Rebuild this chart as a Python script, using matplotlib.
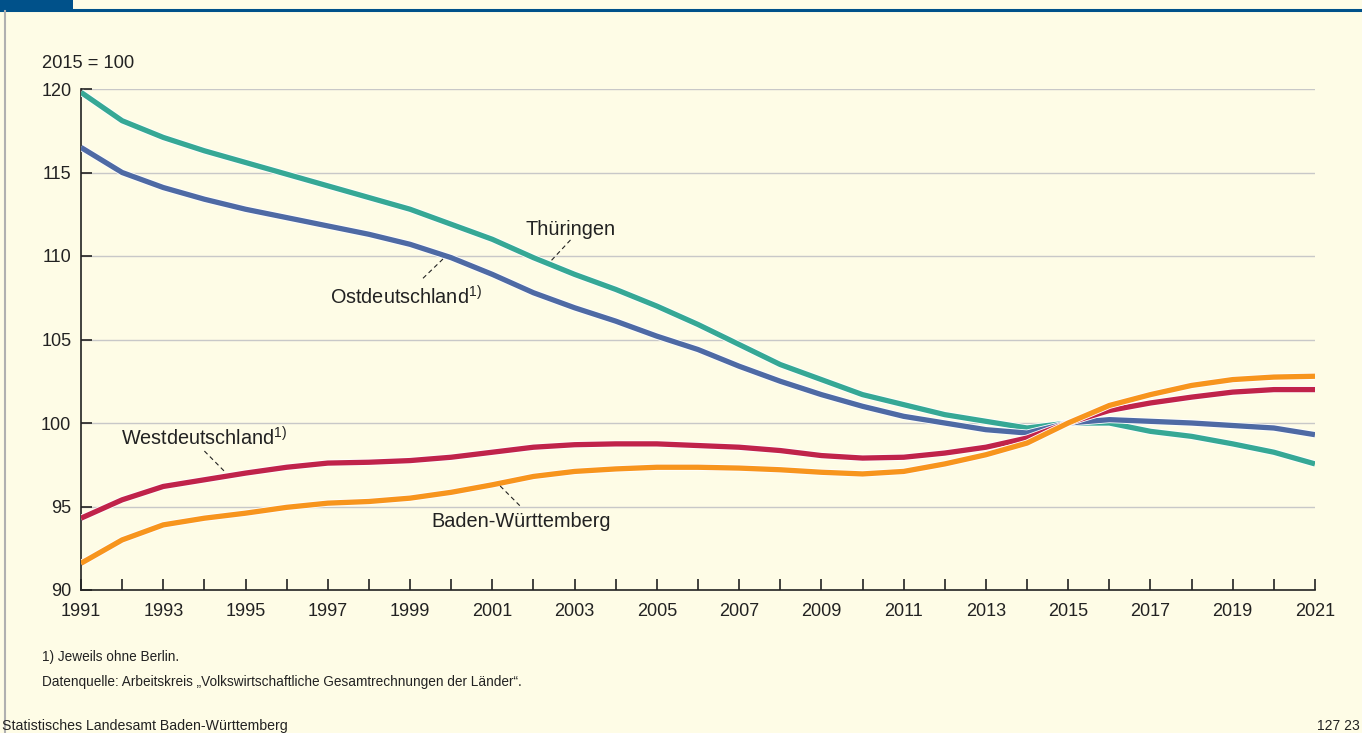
import matplotlib.pyplot as plt
import matplotlib.patheffects as pe
from matplotlib.lines import Line2D
from matplotlib.patches import Rectangle

plt.rcParams['font.family'] = ['Liberation Sans', 'DejaVu Sans']
plt.rcParams['mathtext.fontset'] = 'custom'
plt.rcParams['mathtext.rm'] = 'Liberation Sans'

years = list(range(1991, 2022))

thueringen = [119.8, 118.1, 117.1, 116.3, 115.6, 114.9, 114.2, 113.5, 112.8, 111.9,
              111.0, 109.9, 108.9, 108.0, 107.0, 105.9, 104.7, 103.5, 102.6, 101.7,
              101.1, 100.5, 100.1, 99.7, 100.0, 100.0, 99.5, 99.2, 98.75, 98.25, 97.55]
ostdeutschland = [116.5, 115.0, 114.1, 113.4, 112.8, 112.3, 111.8, 111.3, 110.7, 109.9,
                  108.9, 107.8, 106.9, 106.1, 105.2, 104.4, 103.4, 102.5, 101.7, 101.0,
                  100.4, 100.0, 99.6, 99.4, 100.0, 100.2, 100.1, 100.0, 99.85, 99.7, 99.3]
westdeutschland = [94.3, 95.4, 96.2, 96.6, 97.0, 97.35, 97.6, 97.65, 97.75, 97.95,
                   98.25, 98.55, 98.7, 98.75, 98.75, 98.65, 98.55, 98.35, 98.05, 97.9,
                   97.95, 98.2, 98.55, 99.1, 100.0, 100.75, 101.2, 101.55, 101.85, 102.0, 102.0]
baden_wuerttemberg = [91.6, 93.0, 93.9, 94.3, 94.6, 94.95, 95.2, 95.3, 95.5, 95.85,
                      96.3, 96.8, 97.1, 97.25, 97.35, 97.35, 97.3, 97.2, 97.05, 96.95,
                      97.1, 97.55, 98.1, 98.8, 100.0, 101.05, 101.7, 102.25, 102.6, 102.75, 102.8]

bg = '#fefce6'
fig = plt.figure(figsize=(13.62, 7.33), dpi=100, facecolor=bg)
ax = fig.add_axes([81 / 1362, 1 - 590 / 733, (1315 - 81) / 1362, (590 - 89) / 733])
ax.set_facecolor(bg)

# frame decoration
fig.add_artist(Rectangle((0, 1 - 10 / 733), 73 / 1362, 10 / 733, transform=fig.transFigure,
                         color='#00518a', lw=0))
fig.add_artist(Line2D([0, 1], [1 - 9.5 / 733] * 2, transform=fig.transFigure,
                      color='#00518a', lw=2.2))
fig.add_artist(Line2D([4.5 / 1362] * 2, [0, 1 - 11 / 733], transform=fig.transFigure,
                      color='#b0b0b0', lw=1.5))

ax.set_xlim(1991, 2021)
ax.set_ylim(90, 120)
for v in range(95, 121, 5):
    ax.axhline(v, color='#c8c8c8', lw=1.0, zorder=1)

series = [(thueringen, '#36a895'), (ostdeutschland, '#4e6aa4'),
          (westdeutschland, '#c0234a'), (baden_wuerttemberg, '#f7951d')]
for vals, col in series:
    ax.plot(years, vals, color=col, lw=3.8, solid_capstyle='butt', zorder=3,
            path_effects=[pe.Stroke(linewidth=5.0, foreground='white'), pe.Normal()])

for s in ['top', 'right']:
    ax.spines[s].set_visible(False)
for s in ['left', 'bottom']:
    ax.spines[s].set_color('#222222')
    ax.spines[s].set_linewidth(1.2)

ax.set_xticks(years)
ax.set_xticklabels([str(y) if y % 2 == 1 else '' for y in years])
ax.set_yticks(range(90, 121, 5))
ax.tick_params(direction='in', length=8, width=1.2, color='#222222', labelsize=13,
               labelcolor='#222222')
ax.tick_params(axis='x', pad=9)
ax.tick_params(axis='y', pad=7)

fig.text(42 / 1362, 1 - 64 / 733, '2015 = 100', fontsize=13.2, color='#222222', va='center')

lab = dict(fontsize=14.3, color='#222222', va='center', zorder=5)
ax.text(2002.9, 111.6, 'Thüringen', ha='center', **lab)
ax.text(1998.9, 107.55, 'Ostdeutschland$^{\\mathrm{1)}}$', ha='center', **lab)
ax.text(1994.0, 99.1, 'Westdeutschland$^{\\mathrm{1)}}$', ha='center', **lab)
ax.text(2001.7, 94.1, 'Baden-Württemberg', ha='center', **lab)

dash = dict(color='#222222', lw=0.8, ls=(0, (4, 3)), zorder=4)
ax.plot([2002.9, 2002.4], [110.96, 109.64], **dash)
ax.plot([1999.8, 1999.27], [109.82, 108.56], **dash)
ax.plot([1994.0, 1994.53], [98.32, 97.0], **dash)
ax.plot([2001.19, 2001.7], [96.23, 94.97], **dash)

fig.text(42 / 1362, 1 - 657 / 733, '1) Jeweils ohne Berlin.', fontsize=9.8, color='#222222', va='center')
fig.text(42 / 1362, 1 - 682 / 733,
         'Datenquelle: Arbeitskreis \u201eVolkswirtschaftliche Gesamtrechnungen der L\u00e4nder\u201c.',
         fontsize=9.8, color='#222222', va='center')
fig.text(2 / 1362, 1 - 726 / 733, 'Statistisches Landesamt Baden-Württemberg', fontsize=10.2,
         color='#222222', va='center')
fig.text(1360 / 1362, 1 - 726 / 733, '127 23', fontsize=10, color='#222222', va='center', ha='right')

fig.savefig('out.png', dpi=100, facecolor=bg)
